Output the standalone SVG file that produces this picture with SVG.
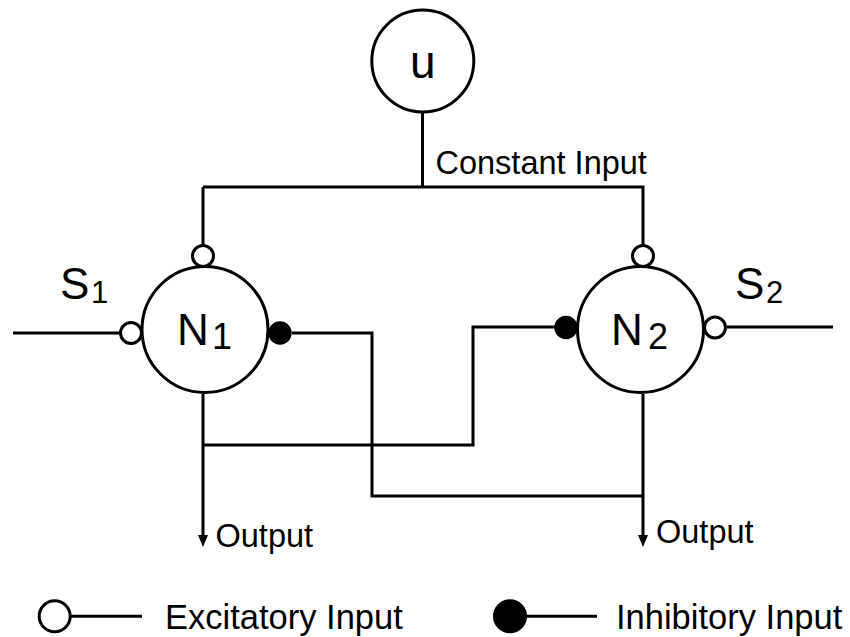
<svg xmlns="http://www.w3.org/2000/svg" width="850" height="637" viewBox="0 0 850 637">
<defs><style>
.l{fill:none;stroke:#000;stroke-width:3}
.n{fill:#fff;stroke:#000;stroke-width:3}
.f{fill:#000;stroke:#000;stroke-width:2}
text{font-family:"Liberation Sans",Arial,sans-serif;fill:#000}
.m{font-size:44px}
.s{font-size:36px}
.t{font-size:32.500px}
.g{font-size:34.500px}
</style></defs>
<rect width="850" height="637" fill="#fff"/>
<g id="connectors">
<path class="l" d="M422.500 113V187M203 187H643V245M203 187V245M13 333H120M292 333H372V496H643M203 394V538M203 445H473V327H555M643 394V538M727 327H833"/>
<path d="M198 535h10l-5 12z" fill="#000"/>
<path d="M638 535h10l-5 12z" fill="#000"/>
</g>
<g id="u"><circle class="n" cx="422.800" cy="61" r="51"/><text x="422.800" y="78" font-size="46" text-anchor="middle">u</text></g>
<g id="N1"><circle class="n" cx="205" cy="329.500" r="63"/><circle class="n" cx="203" cy="256" r="10.500"/><circle class="n" cx="131" cy="333" r="10.500"/><circle class="f" cx="280" cy="333" r="10.700"/><text class="m" x="177" y="345">N</text><text class="s" x="212" y="349">1</text></g>
<g id="N2"><circle class="n" cx="640.500" cy="329.500" r="63"/><circle class="n" cx="643" cy="256" r="10.500"/><circle class="n" cx="715" cy="327.500" r="10.500"/><circle class="f" cx="566" cy="327.500" r="10.700"/><text class="m" x="611" y="345">N</text><text class="s" x="648" y="349">2</text></g>
<g id="labels">
<text class="t" x="435.500" y="174">Constant Input</text>
<text class="m" x="60" y="299">S</text><text x="91" y="303" font-size="31">1</text>
<text class="m" x="735" y="299">S</text><text x="766" y="303" font-size="31">2</text>
<text class="t" x="215.500" y="547">Output</text>
<text class="t" x="656" y="543">Output</text>
</g>
<g id="legend">
<circle class="n" cx="54.700" cy="616.300" r="15.500"/><path class="l" d="M70 616.300H142"/>
<text class="g" x="165" y="629">Excitatory Input</text>
<circle class="f" cx="510" cy="616.300" r="16"/><path class="l" d="M525 616.300H597"/>
<text class="g" x="616" y="629">Inhibitory Input</text>
</g>
</svg>
